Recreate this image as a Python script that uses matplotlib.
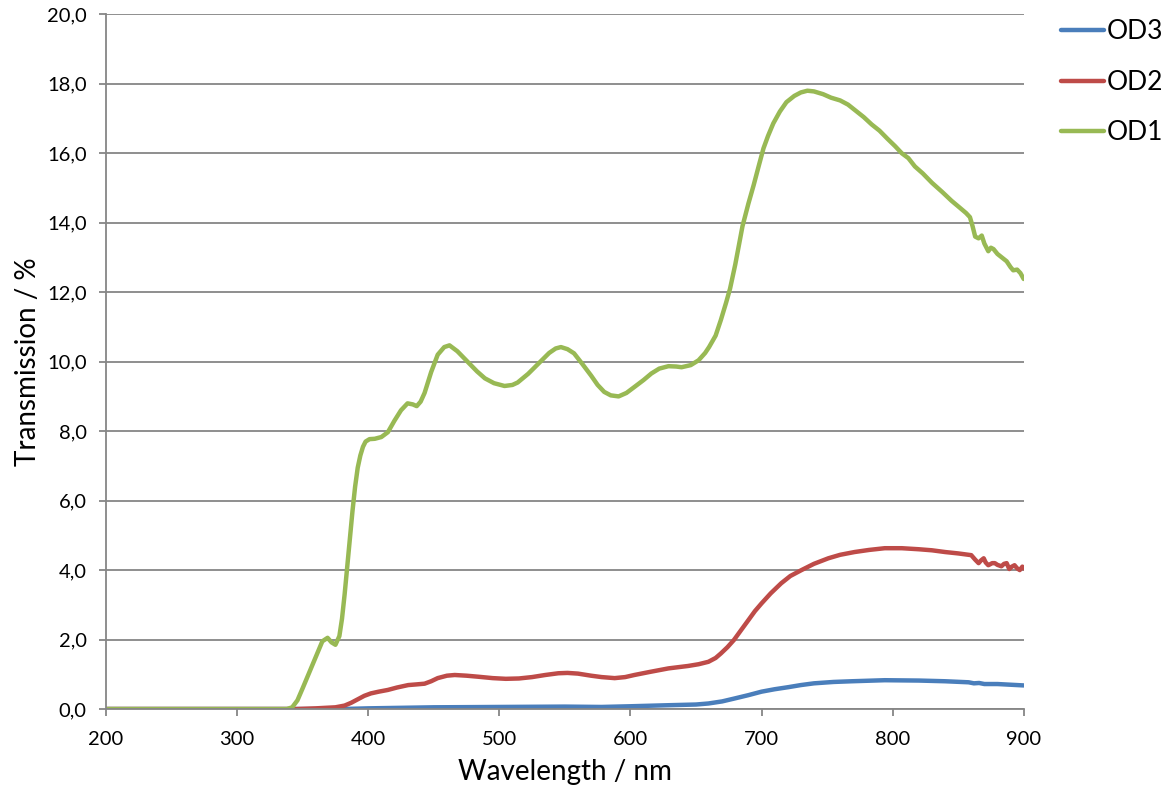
"""
Transmission spectra of three ND filters (OD1, OD2, OD3)
"""

import matplotlib.pyplot as plt
from matplotlib.ticker import FuncFormatter

plt.rcParams['font.family'] = ['Lato', 'DejaVu Sans']

# OD1 (green)
od1_nm = [200, 338, 342, 346, 350, 355, 360, 365, 369, 372, 375, 378, 380, 382, 384, 386,
          388, 390, 392, 394, 396, 398, 401, 405, 410, 415, 420, 425, 430, 434, 437, 440,
          443, 448, 453, 458, 462,
          468, 476, 483, 489, 496, 504, 510, 514, 522, 530, 538, 543, 547, 552, 557, 563,
          570, 575, 580, 585, 591, 597, 603, 610, 616, 622, 629, 635, 639, 646, 652, 657,
          660, 665, 669, 673, 676, 680, 685.5, 690, 694, 698, 701.5, 705, 709, 714, 719, 725,
          730, 735, 740, 747, 753, 760, 766, 772, 778, 784, 790, 796, 802, 807, 812, 817,
          823, 830, 838, 845, 851, 856, 859, 861, 863, 865.6, 868, 870, 873, 875, 877,
          880, 882, 885, 887, 890, 892, 895, 897.5, 900]
od1_val = [0, 0, 0.05, 0.25, 0.6, 1.05, 1.5, 1.95, 2.05, 1.92, 1.85, 2.1, 2.6, 3.3, 4.1, 4.9,
           5.7, 6.4, 6.95, 7.3, 7.55, 7.7, 7.77, 7.78, 7.83, 7.97, 8.3, 8.6, 8.8, 8.77, 8.72, 8.85,
           9.1, 9.7, 10.2, 10.42, 10.47,
           10.3, 9.99, 9.72, 9.52, 9.38, 9.3, 9.33, 9.4, 9.65, 9.95, 10.25, 10.38, 10.42, 10.36, 10.24, 9.95,
           9.6, 9.33, 9.13, 9.03, 9.0, 9.1, 9.27, 9.47, 9.66, 9.8, 9.87, 9.86, 9.84, 9.9, 10.04, 10.25,
           10.42, 10.75, 11.2, 11.7, 12.1, 12.8, 13.9, 14.55, 15.08, 15.65, 16.14, 16.5, 16.86, 17.2, 17.47, 17.65,
           17.75, 17.8, 17.78, 17.7, 17.6, 17.52, 17.4, 17.22, 17.04, 16.83, 16.65, 16.42, 16.2, 16.0, 15.86, 15.62,
           15.42, 15.15, 14.88, 14.63, 14.44, 14.28, 14.16, 13.9, 13.6, 13.55, 13.63, 13.4, 13.18, 13.28, 13.24,
           13.1, 13.04, 12.95, 12.89, 12.72, 12.63, 12.65, 12.55, 12.38]

# OD2 (red)
od2_nm = [200, 345, 360, 375, 382, 387, 392, 397, 402, 408, 415, 422, 430.5, 437, 443, 448,
          453, 460, 466, 475, 484, 495, 505, 515, 525, 535, 545, 552, 560, 570, 578, 588,
          596, 603, 615, 629, 644, 652, 659.5, 665, 669, 674, 679, 684, 690, 695, 700, 707,
          715, 722, 730.5, 740, 751, 760, 771, 782, 794, 807, 820, 830, 840, 850, 860, 863,
          865.6, 867.5, 869.5, 871, 873, 876, 878, 880, 883, 885, 887, 889, 891, 893, 895,
          897, 899, 900]
od2_val = [0, 0, 0.02, 0.05, 0.1, 0.18, 0.28, 0.38, 0.45, 0.5, 0.55, 0.62, 0.69, 0.71, 0.73, 0.8,
           0.89, 0.96, 0.98, 0.96, 0.93, 0.89, 0.87, 0.88, 0.92, 0.98, 1.03, 1.04, 1.02, 0.96, 0.92, 0.89,
           0.92, 0.98, 1.07, 1.17, 1.24, 1.29, 1.36, 1.47, 1.6, 1.78, 1.99, 2.25, 2.56, 2.82, 3.04, 3.33,
           3.62, 3.83, 4.0, 4.18, 4.34, 4.44, 4.52, 4.58, 4.63, 4.63, 4.6, 4.57, 4.52, 4.48, 4.43, 4.3,
           4.2, 4.28, 4.34, 4.22, 4.14, 4.2, 4.2, 4.15, 4.11, 4.18, 4.2, 4.03, 4.1, 4.14, 4.05,
           4.0, 4.1, 4.05]

# OD3 (blue)
od3_nm = [200, 380, 400, 450, 500, 550, 578, 600, 629, 650, 659.5, 670, 679, 690, 700, 710,
          720.5, 730, 740, 755, 769, 794, 820, 840, 858, 862, 866, 870, 880, 890, 900]
od3_val = [0, 0, 0.02, 0.05, 0.06, 0.07, 0.06, 0.08, 0.11, 0.13, 0.16, 0.22, 0.3, 0.4, 0.5, 0.57,
           0.63, 0.69, 0.74, 0.78, 0.8, 0.83, 0.82, 0.8, 0.77, 0.74, 0.75, 0.72, 0.72, 0.7, 0.68]

x_ticks = [200, 300, 400, 500, 600, 700, 800, 900]
y_ticks = [0, 2, 4, 6, 8, 10, 12, 14, 16, 18, 20]

grey = "#868686"

fig = plt.figure(figsize=(11.69, 7.94), dpi=100)
ax = fig.add_axes([0.0907, 0.107, 0.785, 0.875])

ax.plot(od3_nm, od3_val, color="#4A7EBB", lw=3.2, label="OD3", solid_capstyle="round")
ax.plot(od2_nm, od2_val, color="#BE4B48", lw=3.2, label="OD2", solid_capstyle="round")
ax.plot(od1_nm, od1_val, color="#98B954", lw=3.2, label="OD1", solid_capstyle="round")

ax.set_xlim(200, 900)
ax.set_ylim(0, 20)
ax.set_xticks(x_ticks)
ax.set_yticks(y_ticks)
ax.yaxis.set_major_formatter(FuncFormatter(lambda v, p: f"{v:.1f}".replace(".", ",")))

ax.grid(axis="y", color=grey, lw=1.3)
ax.set_axisbelow(True)
for side in ["top", "right"]:
    ax.spines[side].set_visible(False)
for side in ["left", "bottom"]:
    ax.spines[side].set_color(grey)
    ax.spines[side].set_linewidth(1.3)
ax.tick_params(axis="both", direction="out", length=5, width=1.3, color=grey,
               labelsize=14.5)
ax.tick_params(axis="x", pad=11)
ax.tick_params(axis="y", pad=9)

ax.set_xlabel("Wavelength / nm", fontsize=20, labelpad=8)
ax.set_ylabel("Transmission / %", fontsize=20, labelpad=4)

fig.legend(loc="upper left", bbox_to_anchor=(0.899, 0.989), frameon=False, fontsize=19,
           handlelength=1.6, handletextpad=0.12, labelspacing=0.97, borderaxespad=0)

fig.savefig("out.png", dpi=100)
